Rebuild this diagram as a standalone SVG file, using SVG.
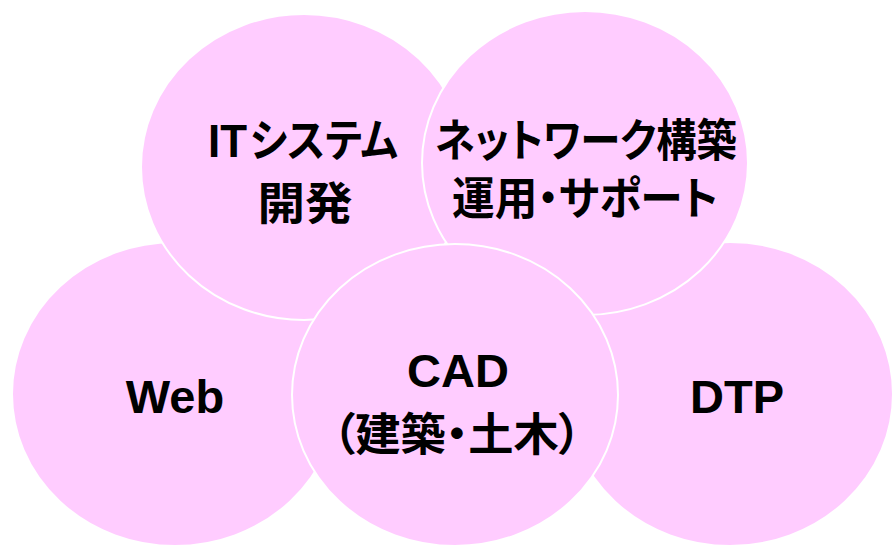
<svg xmlns="http://www.w3.org/2000/svg" width="894" height="546" viewBox="0 0 894 546">
<style>
.c{fill:#FFCCFF;stroke:#FFFFFF;stroke-width:2}
.t{font-family:"Liberation Sans","Noto Sans CJK JP",sans-serif;font-weight:bold;font-size:47px;fill:#000;text-anchor:middle}
.j{font-family:"Noto Sans CJK JP",sans-serif;font-weight:bold;font-size:45px;fill:#000;text-anchor:middle;font-feature-settings:"palt"}
.s{text-anchor:start}
</style>
<rect width="894" height="546" fill="#FFFFFF"/>
<g id="web"><ellipse class="c" cx="175" cy="394" rx="163" ry="152"/><text class="t" x="175" y="413">Web</text></g>
<g id="dtp"><ellipse class="c" cx="730" cy="394" rx="163" ry="152"/><text class="t" x="737" y="413">DTP</text></g>
<g id="it"><ellipse class="c" cx="304" cy="167" rx="163" ry="153"/><text class="t s" x="208" y="157" textLength="39" lengthAdjust="spacingAndGlyphs">IT</text><text class="j s" x="250" y="157" textLength="148" lengthAdjust="spacingAndGlyphs">システム</text><text class="j" x="305" y="220" textLength="95" lengthAdjust="spacingAndGlyphs">開発</text></g>
<g id="network"><ellipse class="c" cx="585" cy="163" rx="163" ry="152"/><text class="j" x="586" y="157" textLength="302" lengthAdjust="spacingAndGlyphs">ネットワーク構築</text><text class="j" x="585" y="215" textLength="266" lengthAdjust="spacingAndGlyphs">運用・サポート</text></g>
<g id="cad"><ellipse class="c" cx="455" cy="395" rx="163" ry="151"/><text class="t" x="458" y="387">CAD</text><text class="j" x="457" y="451" textLength="249" lengthAdjust="spacingAndGlyphs">（建築・土木）</text></g>
<g id="connectors"/>
</svg>
